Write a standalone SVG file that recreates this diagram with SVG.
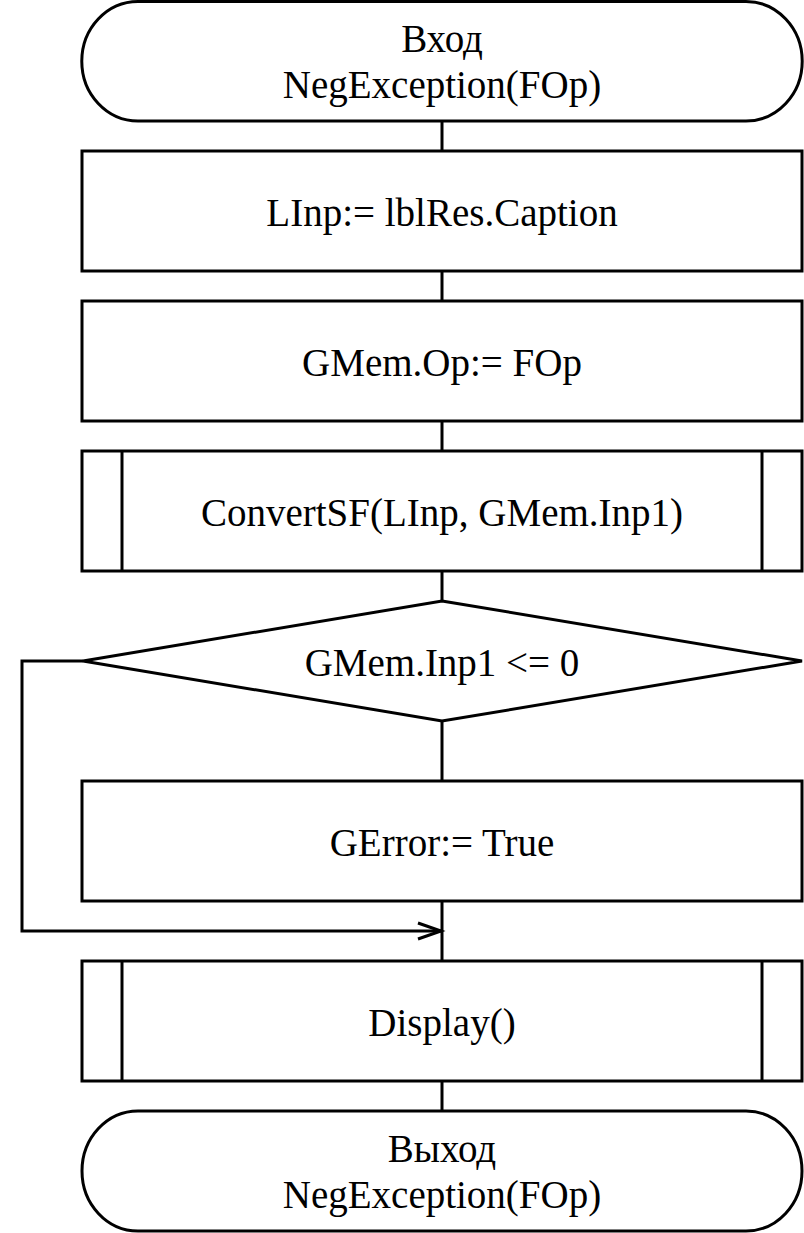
<svg xmlns="http://www.w3.org/2000/svg" width="804" height="1233" viewBox="0 0 804 1233">
<style>
.s{fill:#fff;stroke:#000;stroke-width:3}
.l{fill:none;stroke:#000;stroke-width:3}
text{font-family:"Liberation Serif","Times New Roman",serif;font-size:39px;fill:#000;text-anchor:middle}
</style>
<defs>
<marker id="arr" markerUnits="userSpaceOnUse" markerWidth="30" markerHeight="24" refX="24" refY="10" orient="auto">
<path d="M1,2 L24,10 L1,18" fill="none" stroke="#000" stroke-width="3"/>
</marker>
</defs>
<rect width="804" height="1233" fill="#fff"/>
<g id="connectors">
<line class="l" x1="442" y1="121" x2="442" y2="151"/>
<line class="l" x1="442" y1="271" x2="442" y2="301"/>
<line class="l" x1="442" y1="421" x2="442" y2="451"/>
<line class="l" x1="442" y1="571" x2="442" y2="601"/>
<line class="l" x1="442" y1="721" x2="442" y2="781"/>
<line class="l" x1="442" y1="901" x2="442" y2="961"/>
<line class="l" x1="442" y1="1081" x2="442" y2="1111"/>
<polyline class="l" points="83,661 22,661 22,931 441,931" marker-end="url(#arr)"/>
</g>
<g id="start">
<path class="s" d="M138,1.5 H746 A56,59.5 0 0 1 746,121 H138 A56,59.5 0 0 1 138,1.5 Z"/>
<text x="442" y="52">Вход</text>
<text x="442" y="98">NegException(FOp)</text>
</g>
<g id="n1">
<rect class="s" x="82" y="151" width="720" height="120"/>
<text x="442" y="226">LInp:= lblRes.Caption</text>
</g>
<g id="n2">
<rect class="s" x="82" y="301" width="720" height="120"/>
<text x="442" y="376">GMem.Op:= FOp</text>
</g>
<g id="n3">
<rect class="s" x="82" y="451" width="720" height="120"/>
<line class="l" x1="122" y1="451" x2="122" y2="571"/>
<line class="l" x1="762" y1="451" x2="762" y2="571"/>
<text x="442" y="526">ConvertSF(LInp, GMem.Inp1)</text>
</g>
<g id="d1">
<polygon class="s" points="442,601 802,661 442,721 83,661"/>
<text x="442" y="676">GMem.Inp1 &lt;= 0</text>
</g>
<g id="n4">
<rect class="s" x="82" y="781" width="720" height="120"/>
<text x="442" y="856">GError:= True</text>
</g>
<g id="n5">
<rect class="s" x="82" y="961" width="720" height="120"/>
<line class="l" x1="122" y1="961" x2="122" y2="1081"/>
<line class="l" x1="762" y1="961" x2="762" y2="1081"/>
<text x="442" y="1036">Display()</text>
</g>
<g id="end">
<path class="s" d="M138,1111 H746 A56,60 0 0 1 746,1231 H138 A56,60 0 0 1 138,1111 Z"/>
<text x="442" y="1162">Выход</text>
<text x="442" y="1208">NegException(FOp)</text>
</g>
</svg>
